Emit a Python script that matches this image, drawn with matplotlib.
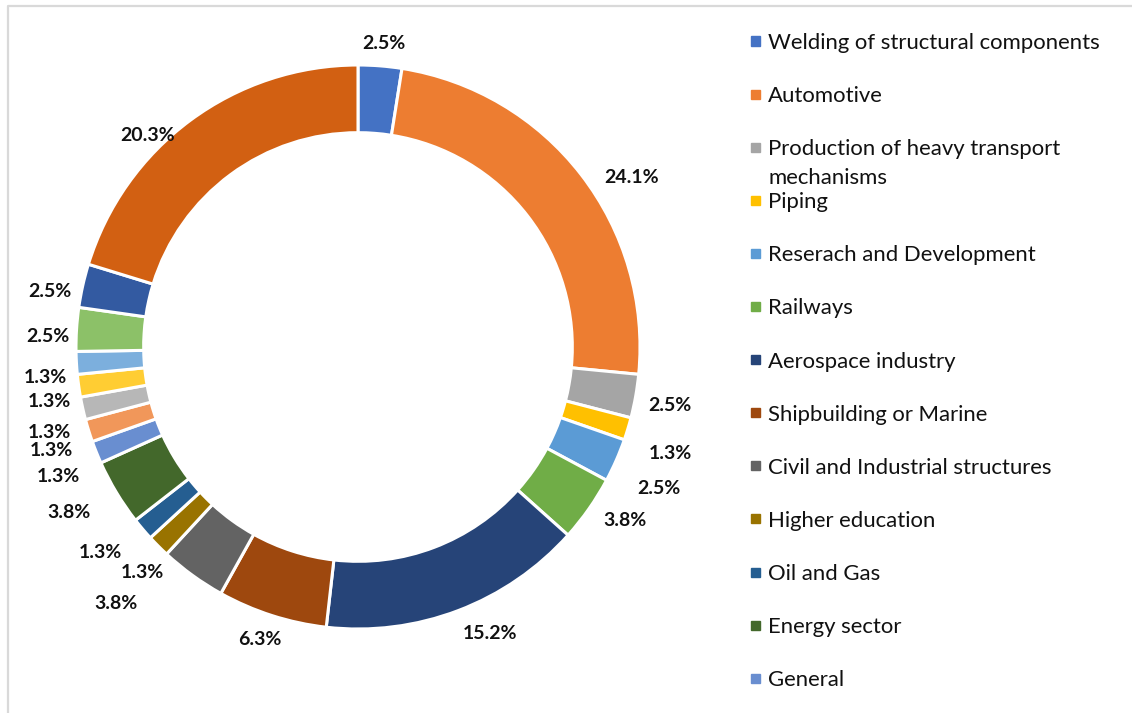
import numpy as np
import matplotlib
matplotlib.use("Agg")
import matplotlib.pyplot as plt
from matplotlib.lines import Line2D
from matplotlib.patches import Rectangle

W, H = 1132, 713

# slice shares (%), clockwise from 12 o'clock
shares = [2.5, 24.1, 2.5, 1.3, 2.5, 3.8, 15.2, 6.3, 3.8, 1.3,
          1.3, 3.8, 1.3, 1.3, 1.3, 1.3, 1.3, 2.5, 2.5, 20.3]
colors = ["#4472C4", "#ED7D31", "#A5A5A5", "#FFC000", "#5B9BD5", "#70AD47",
          "#264478", "#9E480E", "#636363", "#997300", "#255E91", "#43682B",
          "#698ED0", "#F1975A", "#B7B7B7", "#FFCD33", "#7CAFDD", "#8CC168",
          "#335AA1", "#D26012"]
legend_labels = ["Welding of structural components", "Automotive",
                 "Production of heavy transport\nmechanisms", "Piping",
                 "Reserach and Development", "Railways", "Aerospace industry",
                 "Shipbuilding or Marine", "Civil and Industrial structures",
                 "Higher education", "Oil and Gas", "Energy sector", "General"]

# where each % label sits: radius (x ring radius) and angle nudge in degrees
label_rad = [1.08, 1.14, 1.125, 1.17, 1.18, 1.13, 1.12, 1.095, 1.25, 1.108,
             1.168, 1.18, 1.158, 1.147, 1.135, 1.11, 1.115, 1.10, 1.11, 1.06]
label_shift = [0.4, 6, 0.6, 1.9, 1.5, -2, -3.9, 0.7, 7.4, -1.4,
               1.7, 1.3, -1.4, -1.5, -3, -2.2, -2.3, -1.6, -2.3, -8.4]

FONT = ["Lato", "DejaVu Sans"]

fig = plt.figure(figsize=(W / 100, H / 100), dpi=100)

# ring geometry in pixels
cx, cy, R = 358, 347, 282
lim = 1.25
side = 2 * lim * R
ax = fig.add_axes([(cx - side / 2) / W, (H - cy - side / 2) / H, side / W, side / H])

wedges, _ = ax.pie(shares, colors=colors, startangle=90, counterclock=False,
                   radius=1, wedgeprops=dict(width=0.24, edgecolor="white", linewidth=2.2))
ax.set_xlim(-lim, lim)
ax.set_ylim(-lim, lim)
ax.axis("off")

total = sum(shares)
cum = 0
for i, v in enumerate(shares):
    mid = (cum + v / 2) / total * 360
    cum += v
    a = np.deg2rad(90 - (mid + label_shift[i]))
    r = label_rad[i]
    ax.text(r * np.cos(a), r * np.sin(a), f"{v:.1f}%", ha="center", va="center",
            fontsize=14, fontweight="bold", family=FONT, color="#111111")

# legend, drawn by hand to keep Excel's even spacing
y0, dy = 41, 53.1
for i, lab in enumerate(legend_labels):
    y = y0 + i * dy
    fig.add_artist(Rectangle((751 / W, 1 - (y + 4.5) / H), 9 / W, 9 / H,
                             color=colors[i], transform=fig.transFigure))
    for k, line in enumerate(lab.split("\n")):
        fig.text(768 / W, 1 - (y + k * 29) / H, line, ha="left", va="center_baseline",
                 fontsize=15.9, family=FONT, color="#111111")

# chart frame (left and top edges visible)
fig.add_artist(Line2D([7.5 / W, 7.5 / W, 1], [0, 1 - 6 / H, 1 - 6 / H],
                      color="#D9D9D9", lw=1.6, transform=fig.transFigure))

fig.savefig("out.png", dpi=100)
